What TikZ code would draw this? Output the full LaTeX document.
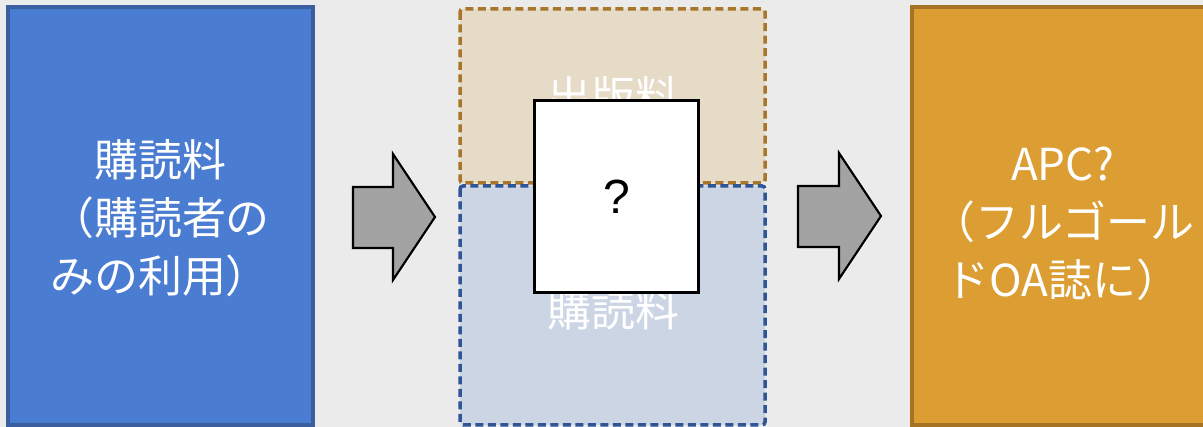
\documentclass[tikz,border=0pt]{standalone}
\usepackage{fontspec}
\newfontfamily\jp{Noto Sans CJK JP}
\setmainfont{Liberation Sans}
\definecolor{bg}{HTML}{EBEBEB}
\definecolor{bluefill}{HTML}{4A7CD1}
\definecolor{blueline}{HTML}{3A5E9E}
\definecolor{tanfill}{HTML}{E6DBC6}
\definecolor{tanline}{HTML}{A8762A}
\definecolor{lbluefill}{HTML}{CBD5E4}
\definecolor{lblueline}{HTML}{2F5597}
\definecolor{orfill}{HTML}{DC9E33}
\definecolor{orline}{HTML}{A57324}
\definecolor{arrowfill}{HTML}{A3A3A3}
\tikzset{
  bigtext/.style={text=white, align=center, font=\jp\fontsize{44}{58}\selectfont, inner sep=0pt},
  solidbox/.style={line width=3.5pt},
  dashbox/.style={line width=3.5pt, dash pattern=on 8pt off 4.5pt, rounded corners=3pt},
  blockarrow/.style={draw=black, line width=2.2pt, fill=arrowfill, line join=miter},
}
\begin{document}
\begin{tikzpicture}[x=1pt,y=-1pt]
\fill[bg] (0,0) rectangle (1203,427);
\useasboundingbox (0,0) rectangle (1203,427);
\begin{scope}
\clip (0,0) rectangle (1203,427);
% left box
\draw[solidbox, draw=blueline, fill=bluefill] (8,7) rectangle (313,425);
\node[bigtext] (lefttext) at (160,218) {購読料\\（購読者の\\みの利用）};
% middle boxes
\draw[dashbox, draw=tanline, fill=tanfill] (460,9) rectangle (765,183);
\draw[dashbox, draw=lblueline, fill=lbluefill] (460,186) rectangle (765,425);
\node[bigtext] (pubfee) at (613,97) {出版料};
\node[bigtext] (subfee) at (613,310) {購読料};
\node[draw=black, line width=3.5pt, fill=white, minimum width=164pt, minimum height=192pt, inner sep=0pt,
      font=\fontsize{48}{50}\selectfont] (q) at (616.5,196.5) {?};
% right box
\draw[solidbox, draw=orline, fill=orfill] (912,7) rectangle (1215,425);
\node[bigtext] (righttext) at (1063,224) {APC?\\（フルゴール\\ドOA誌に）};
% arrows
\draw[blockarrow] (353,187) -- (393,187) -- (393,154) -- (435,217) -- (393,280) -- (393,248) -- (353,248) -- cycle;
\draw[blockarrow] (798,186) -- (839,186) -- (839,153) -- (881,216) -- (839,279) -- (839,247) -- (798,247) -- cycle;
\end{scope}
\end{tikzpicture}
\end{document}
